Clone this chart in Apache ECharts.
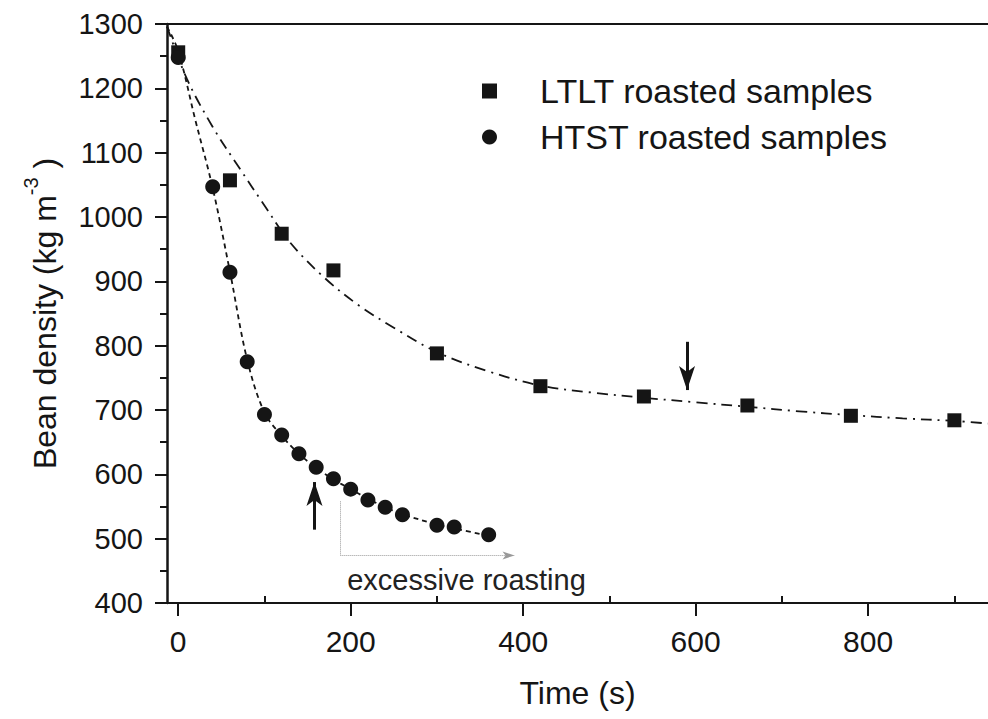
<!DOCTYPE html>
<html>
<head>
<meta charset="utf-8">
<script src="https://cdn.jsdelivr.net/npm/echarts@6/dist/echarts.min.js"></script>
<style>
html,body{margin:0;padding:0;background:#fff;}
#chart{width:988px;height:719px;}
</style>
</head>
<body>
<div id="chart"></div>
<script>
// ---- data ----
var ltltTime = [0, 60, 120, 180, 300, 420, 540, 660, 780, 900];
var ltltDensity = [1256, 1057, 974, 917, 788, 737, 721, 707, 691, 684];
var htstTime = [0, 40, 60, 80, 100, 120, 140, 160, 180, 200, 220, 240, 260, 300, 320, 360];
var htstDensity = [1248, 1047, 914, 775, 693, 661, 632, 611, 593, 577, 560, 549, 537, 521, 518, 506];
// fitted curves
var ltltFitTime = [-13, 10, 40, 70, 100, 130, 170, 210, 250, 300, 360, 420, 480, 540, 600, 660, 720, 780, 840, 900, 939];
var ltltFitDensity = [1296, 1215, 1140, 1078, 1018, 960, 905, 862, 828, 790, 760, 738, 727, 719, 712, 705, 698, 692, 687, 683, 679];
var htstFitTime = [-13, 0, 20, 40, 60, 80, 100, 120, 140, 160, 180, 200, 220, 240, 260, 300, 320, 365];
var htstFitDensity = [1296, 1258, 1150, 1045, 915, 778, 696, 660, 632, 610, 592, 577, 562, 549, 538, 522, 516, 503];
var xMajorTicks = [0, 200, 400, 600, 800];
var xMinorTicks = [100, 300, 500, 700, 900];
var seriesNames = ['LTLT roasted samples', 'HTST roasted samples'];
var xTitle = 'Time (s)';
var annotationText = 'excessive roasting';

function pairs(xs, ys) { return xs.map(function (x, i) { return [x, ys[i]]; }); }

var FONT = '"Liberation Sans", Arial, Helvetica, sans-serif';
var INK = '#151515';
var xMin = -13, xMax = 939;

var chart = echarts.init(document.getElementById('chart'), null, {renderer: 'svg'});
chart.setOption({
  animation: false,
  backgroundColor: '#fff',
  textStyle: {fontFamily: FONT, color: INK},
  grid: {left: 167, right: 0, top: 24, bottom: 116, containLabel: false},
  legend: {
    data: seriesNames,
    orient: 'vertical',
    left: 477, top: 69,
    itemWidth: 15, itemHeight: 15, itemGap: 12,
    textStyle: {fontSize: 34, fontFamily: FONT, color: INK, lineHeight: 34, padding: [0, 0, 0, 38]},
    selectedMode: false
  },
  xAxis: [
    {
      type: 'value', min: xMin, max: xMax, position: 'bottom',
      name: xTitle, nameLocation: 'middle', nameGap: 74,
      nameTextStyle: {fontSize: 32, fontFamily: FONT, color: INK},
      axisLine: {show: true, onZero: false, lineStyle: {color: INK, width: 2}},
      axisTick: {show: true, inside: false, customValues: xMajorTicks, length: 13, lineStyle: {color: INK, width: 2}},
      axisLabel: {show: true, customValues: xMajorTicks, fontSize: 30, fontFamily: FONT, color: INK, margin: 23},
      splitLine: {show: false}
    },
    {
      type: 'value', min: xMin, max: xMax, position: 'bottom', offset: 0,
      axisLine: {show: false, onZero: false},
      axisTick: {show: true, inside: true, customValues: xMinorTicks, length: 7, lineStyle: {color: INK, width: 2}},
      axisLabel: {show: false},
      splitLine: {show: false}
    },
    {
      type: 'value', min: xMin, max: xMax, position: 'top',
      axisLine: {show: true, onZero: false, lineStyle: {color: INK, width: 2}},
      axisTick: {show: false}, axisLabel: {show: false}, splitLine: {show: false}
    }
  ],
  yAxis: {
    type: 'value', min: 400, max: 1300, interval: 100,
    name: '{a|Bean density (kg m}{s|-3}{a| )}',
    nameLocation: 'middle', nameGap: 106, nameRotate: 90,
    nameTextStyle: {
      fontSize: 32, fontFamily: FONT, color: INK,
      rich: {
        a: {fontSize: 32, fontFamily: FONT, color: INK, lineHeight: 40, verticalAlign: 'bottom'},
        s: {fontSize: 20, fontFamily: FONT, color: INK, lineHeight: 40, verticalAlign: 'top'}
      }
    },
    axisLine: {show: true, onZero: false, lineStyle: {color: INK, width: 2.5}},
    axisTick: {show: true, inside: false, length: 12, lineStyle: {color: INK, width: 2}},
    minorTick: {show: true, splitNumber: 2, length: 7, lineStyle: {color: INK, width: 2}},
    axisLabel: {fontSize: 29, fontFamily: FONT, color: INK, margin: 24,
                formatter: function (v) { return String(v); }},
    splitLine: {show: false}
  },
  series: [
    {
      name: 'LTLT fit', type: 'line', smooth: 0.35, showSymbol: false, silent: true,
      data: pairs(ltltFitTime, ltltFitDensity),
      lineStyle: {color: INK, width: 1.8, type: [11, 6, 2, 6]},
      z: 2
    },
    {
      name: 'HTST fit', type: 'line', smooth: 0.35, showSymbol: false, silent: true,
      data: pairs(htstFitTime, htstFitDensity),
      lineStyle: {color: INK, width: 1.8, type: [5, 4]},
      z: 2,
      markLine: {
        silent: true, animation: false,
        label: {show: false},
        data: [
          [{coord: [158, 514], symbol: 'none', lineStyle: {color: INK, width: 3, type: 'solid'}},
           {coord: [158, 588], symbol: 'arrow', symbolSize: [12, 24]}],
          [{coord: [590, 806], symbol: 'none', lineStyle: {color: INK, width: 3, type: 'solid'}},
           {coord: [590, 731], symbol: 'arrow', symbolSize: [12, 24]}],
          [{coord: [188, 558], symbol: 'none', lineStyle: {color: '#999', width: 1, type: 'dotted'}},
           {coord: [188, 474], symbol: 'none'}],
          [{coord: [188, 474], symbol: 'none', lineStyle: {color: '#999', width: 1, type: 'dotted'}},
           {coord: [390, 474], symbol: 'arrow', symbolSize: [6, 12]}]
        ]
      },
      markPoint: {
        silent: true, animation: false,
        symbol: 'circle', symbolSize: 0,
        data: [{coord: [196, 436], value: annotationText}],
        label: {show: true, position: 'right', distance: 0, formatter: annotationText,
                fontSize: 29, fontFamily: FONT, color: '#222'}
      }
    },
    {
      name: seriesNames[0], type: 'scatter', symbol: 'rect', symbolSize: 14,
      data: pairs(ltltTime, ltltDensity),
      itemStyle: {color: INK, opacity: 1}, z: 5
    },
    {
      name: seriesNames[1], type: 'scatter', symbol: 'circle', symbolSize: 15,
      data: pairs(htstTime, htstDensity),
      itemStyle: {color: INK, opacity: 1}, z: 5
    }
  ]
});
</script>
</body>
</html>
